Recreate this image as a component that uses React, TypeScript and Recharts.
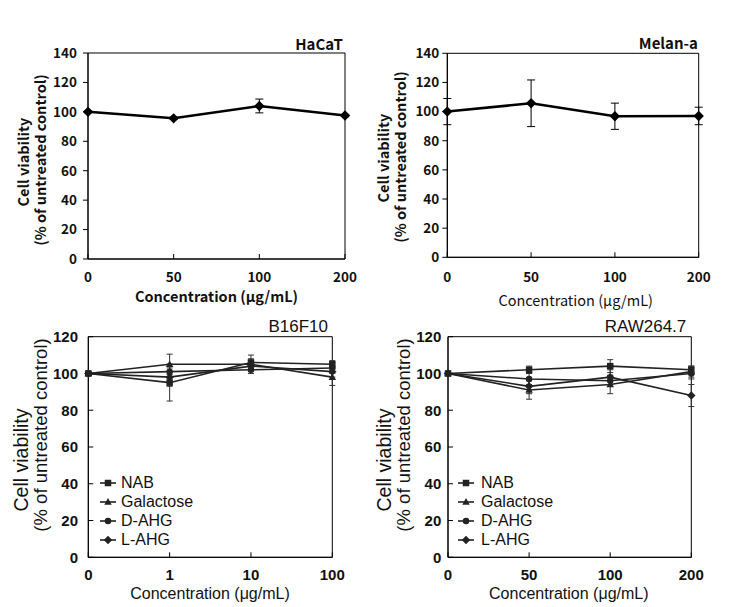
import React from 'react';
import { LineChart, Line, XAxis, YAxis, ErrorBar, ReferenceArea, Legend } from 'recharts';

// top row: single series per cell line
const topCats = ['0', '50', '100', '200'];
const hacatValues = [100, 95.6, 104, 97.5];
const hacatErrors = [0.6, 0.8, 4.7, 0.8];
const melanValues = [100, 105.7, 96.8, 97];
const melanErrors = [9, 16, 9, 6];
const topTicks = [0, 20, 40, 60, 80, 100, 120, 140];

// bottom row: four treatments
const b16Cats = ['0', '1', '10', '100'];
const b16Nab = [100, 95, 106, 105];
const b16NabErr = [1, 10, 4, 2];
const b16Gal = [100, 105, 105, 98];
const b16GalErr = [1, 5.5, 3, 4.5];
const b16Dahg = [100, 101, 102, 103];
const b16DahgErr = [1, 4, 2, 3];
const b16Lahg = [100, 98, 104, 101];
const b16LahgErr = [1, 5, 3, 3];

const rawCats = ['0', '50', '100', '200'];
const rawNab = [100, 102, 104, 102];
const rawNabErr = [1, 2, 3.5, 2];
const rawGal = [100, 91, 94, 101];
const rawGalErr = [1, 5, 5, 3];
const rawDahg = [100, 97, 96, 100];
const rawDahgErr = [1, 3, 3, 3];
const rawLahg = [100, 93, 98, 88];
const rawLahgErr = [1, 4, 4, 6];
const bottomTicks = [0, 20, 40, 60, 80, 100, 120];

const seriesNames = ['NAB', 'Galactose', 'D-AHG', 'L-AHG'];

type Shape = 'square' | 'triangle' | 'circle' | 'diamond';

interface SeriesDef {
  key: string;
  name: string;
  values: number[];
  errors: number[];
  shape: Shape;
}

const topFont = '"Noto Sans CJK KR", "Noto Sans", sans-serif';
const botFont = '"Liberation Sans", Arial, sans-serif';

function Marker({ shape, cx, cy, size, color }: { shape: Shape; cx: number; cy: number; size: number; color: string }) {
  const h = size / 2;
  if (shape === 'square') return <rect x={cx - h} y={cy - h} width={size} height={size} fill={color} />;
  if (shape === 'circle') return <circle cx={cx} cy={cy} r={h} fill={color} />;
  if (shape === 'triangle')
    return <path d={`M${cx},${cy - h * 1.2}L${cx + h * 1.15},${cy + h * 0.85}L${cx - h * 1.15},${cy + h * 0.85}Z`} fill={color} />;
  const d = h * 1.3;
  return <path d={`M${cx},${cy - d}L${cx + d},${cy}L${cx},${cy + d}L${cx - d},${cy}Z`} fill={color} />;
}

function buildRows(cats: string[], series: SeriesDef[]) {
  return cats.map((c, i) => {
    const row: any = { x: c };
    series.forEach((s) => {
      row[s.key] = s.values[i];
      row[s.key + 'Err'] = s.errors[i];
    });
    return row;
  });
}

const shapes: Shape[] = ['square', 'triangle', 'circle', 'diamond'];
const b16Series: SeriesDef[] = [
  [b16Nab, b16NabErr],
  [b16Gal, b16GalErr],
  [b16Dahg, b16DahgErr],
  [b16Lahg, b16LahgErr],
].map(([v, e], i) => ({ key: 's' + i, name: seriesNames[i], values: v, errors: e, shape: shapes[i] }));
const rawSeries: SeriesDef[] = [
  [rawNab, rawNabErr],
  [rawGal, rawGalErr],
  [rawDahg, rawDahgErr],
  [rawLahg, rawLahgErr],
].map(([v, e], i) => ({ key: 's' + i, name: seriesNames[i], values: v, errors: e, shape: shapes[i] }));

const panels = [
  {
    left: 0, top: 0, width: 366, height: 310,
    margin: { top: 53, right: 21, bottom: 21, left: 28 },
    cats: topCats, yMax: 140, yTicks: topTicks,
    series: [{ key: 'v', name: 'HaCaT', values: hacatValues, errors: hacatErrors, shape: 'diamond' as Shape }],
    font: topFont, tickSize: 13.5, tickWeight: 700,
    yTickLen: 5, yTickGap: 6, xTickLen: -5, xTickGap: 18,
    title: 'HaCaT', titleX: 343, titleY: 43, titleSize: 15, titleWeight: 700,
    yTitleX: [22, 39], yTitleY: [162, 160], yTitleSize: [14.5, 14.5], yTitleWeight: 700,
    xTitleX: 216.5, xTitleY: 295, xTitleSize: 14.5, xTitleWeight: 700,
    lineColor: '#000', lineWidth: 2.5, markerSize: 8, errCap: 4, errColor: '#000',
  },
  {
    left: 366, top: 0, width: 367, height: 310,
    margin: { top: 53.3, right: 34.3, bottom: 22.7, left: 21.3 },
    cats: topCats, yMax: 140, yTicks: topTicks,
    series: [{ key: 'v', name: 'Melan-a', values: melanValues, errors: melanErrors, shape: 'diamond' as Shape }],
    font: topFont, tickSize: 13.5, tickWeight: 700,
    yTickLen: 5, yTickGap: 3, xTickLen: -5, xTickGap: 20,
    title: 'Melan-a', titleX: 332, titleY: 42.7, titleSize: 15, titleWeight: 700,
    yTitleX: [16, 33.7], yTitleY: [158, 157], yTitleSize: [14.5, 14.5], yTitleWeight: 700,
    xTitleX: 209.7, xTitleY: 299, xTitleSize: 14.5, xTitleWeight: 400,
    lineColor: '#000', lineWidth: 2.5, markerSize: 8, errCap: 4, errColor: '#000',
  },
  {
    left: 0, top: 310, width: 366, height: 297,
    margin: { top: 26.7, right: 33.7, bottom: 19.7, left: 28.3 },
    cats: b16Cats, yMax: 120, yTicks: bottomTicks, series: b16Series,
    font: botFont, tickSize: 15, tickWeight: 700,
    yTickLen: -5, yTickGap: 15.3, xTickLen: -5, xTickGap: 17,
    title: 'B16F10', titleX: 328, titleY: 16.7, titleSize: 17, titleWeight: 400,
    yTitleX: [21, 40], yTitleY: [150, 125], yTitleSize: [19.5, 18.5], yTitleWeight: 400,
    xTitleX: 210, xTitleY: 283, xTitleSize: 16, xTitleWeight: 400,
    lineColor: '#222', lineWidth: 1.6, markerSize: 6.5, errCap: 3, errColor: '#333',
    legend: { left: 100, top: 163, gap: 5, rowH: 19, size: 16 },
  },
  {
    left: 366, top: 310, width: 367, height: 297,
    margin: { top: 26.7, right: 41.7, bottom: 19.7, left: 22 },
    cats: rawCats, yMax: 120, yTicks: bottomTicks, series: rawSeries,
    font: botFont, tickSize: 15, tickWeight: 700,
    yTickLen: -5, yTickGap: 11.7, xTickLen: -5, xTickGap: 17,
    title: 'RAW264.7', titleX: 320.3, titleY: 16.7, titleSize: 17, titleWeight: 400,
    yTitleX: [17.7, 37], yTitleY: [150, 125], yTitleSize: [19.5, 18.5], yTitleWeight: 400,
    xTitleX: 202.8, xTitleY: 283, xTitleSize: 16, xTitleWeight: 400,
    lineColor: '#222', lineWidth: 1.6, markerSize: 6.5, errCap: 3, errColor: '#333',
    legend: { left: 92, top: 163, gap: 7, rowH: 19, size: 16 },
  },
];

function Panel({ cfg }: { cfg: any }) {
  const rows = buildRows(cfg.cats, cfg.series);
  const textColor = '#111';

  return (
    <div style={{ position: 'absolute', left: cfg.left, top: cfg.top }}>
      <LineChart width={cfg.width} height={cfg.height} data={rows} margin={cfg.margin}>
        <XAxis
          dataKey="x"
          type="category"
          height={30}
          stroke="#000"
          tickSize={cfg.xTickLen}
          tickMargin={cfg.xTickGap}
          tick={{ fill: textColor, fontSize: cfg.tickSize, fontWeight: cfg.tickWeight, fontFamily: cfg.font }}
          label={{
            content: () => (
              <text x={cfg.xTitleX} y={cfg.xTitleY} textAnchor="middle" dominantBaseline="central"
                fill={textColor} fontSize={cfg.xTitleSize} fontWeight={cfg.xTitleWeight} fontFamily={cfg.font}>
                Concentration (μg/mL)
              </text>
            ),
          }}
        />
        <YAxis
          width={60}
          domain={[0, cfg.yMax]}
          ticks={cfg.yTicks}
          interval={0}
          stroke="#000"
          tickSize={cfg.yTickLen}
          tickMargin={cfg.yTickGap}
          tick={{ fill: textColor, fontSize: cfg.tickSize, fontWeight: cfg.tickWeight, fontFamily: cfg.font }}
          label={{
            content: () => (
              <g fill={textColor} fontWeight={cfg.yTitleWeight} fontFamily={cfg.font}>
                <text transform={`translate(${cfg.yTitleX[0]},${cfg.yTitleY[0]}) rotate(-90)`} fontSize={cfg.yTitleSize[0]}
                  textAnchor="middle" dominantBaseline="central">
                  Cell viability
                </text>
                <text transform={`translate(${cfg.yTitleX[1]},${cfg.yTitleY[1]}) rotate(-90)`} fontSize={cfg.yTitleSize[1]}
                  textAnchor="middle" dominantBaseline="central">
                  (% of untreated control)
                </text>
              </g>
            ),
          }}
        />
        <ReferenceArea
          x1={cfg.cats[0]}
          x2={cfg.cats[cfg.cats.length - 1]}
          y1={0}
          y2={cfg.yMax}
          fill="none"
          fillOpacity={0}
          stroke="#000"
          strokeWidth={1}
          ifOverflow="visible"
          label={{
            content: () => (
              <text x={cfg.titleX} y={cfg.titleY} textAnchor="end" dominantBaseline="central"
                fill={textColor} fontSize={cfg.titleSize} fontWeight={cfg.titleWeight} fontFamily={cfg.font}>
                {cfg.title}
              </text>
            ),
          }}
        />
        {cfg.series.map((s: SeriesDef) => (
          <Line
            key={s.key}
            type="linear"
            dataKey={s.key}
            name={s.name}
            stroke={cfg.lineColor}
            strokeWidth={cfg.lineWidth}
            isAnimationActive={false}
            activeDot={false}
            dot={(p: any) => (
              <Marker key={`${s.key}-${p.index}`} shape={s.shape} cx={p.cx} cy={p.cy} size={cfg.markerSize} color={cfg.lineColor} />
            )}
          >
            <ErrorBar dataKey={s.key + 'Err'} direction="y" width={cfg.errCap} stroke={cfg.errColor} strokeWidth={1} isAnimationActive={false} />
          </Line>
        ))}
        {cfg.legend && (
          <Legend
            layout="vertical"
            align="center"
            verticalAlign="middle"
            wrapperStyle={{ left: cfg.legend.left, top: cfg.legend.top, width: 160, height: 'auto' }}
            content={() => (
              <div style={{ fontFamily: cfg.font, fontSize: cfg.legend.size, color: textColor }}>
                {cfg.series.map((s: SeriesDef) => (
                  <div key={s.key} style={{ display: 'flex', alignItems: 'center', height: cfg.legend.rowH }}>
                    <svg width={16} height={12} style={{ display: 'block' }}>
                      <line x1={0} y1={6} x2={16} y2={6} stroke={cfg.lineColor} strokeWidth={cfg.lineWidth} />
                      <Marker shape={s.shape} cx={8} cy={6} size={cfg.markerSize} color={cfg.lineColor} />
                    </svg>
                    <span style={{ marginLeft: cfg.legend.gap, lineHeight: 1 }}>{s.name}</span>
                  </div>
                ))}
              </div>
            )}
          />
        )}
      </LineChart>
    </div>
  );
}

export default function App() {
  return (
    <div style={{ position: 'absolute', left: 0, top: 0, width: 733, height: 607, background: '#fff', overflow: 'hidden' }}>
      {panels.map((p, i) => (
        <Panel key={i} cfg={p} />
      ))}
    </div>
  );
}
